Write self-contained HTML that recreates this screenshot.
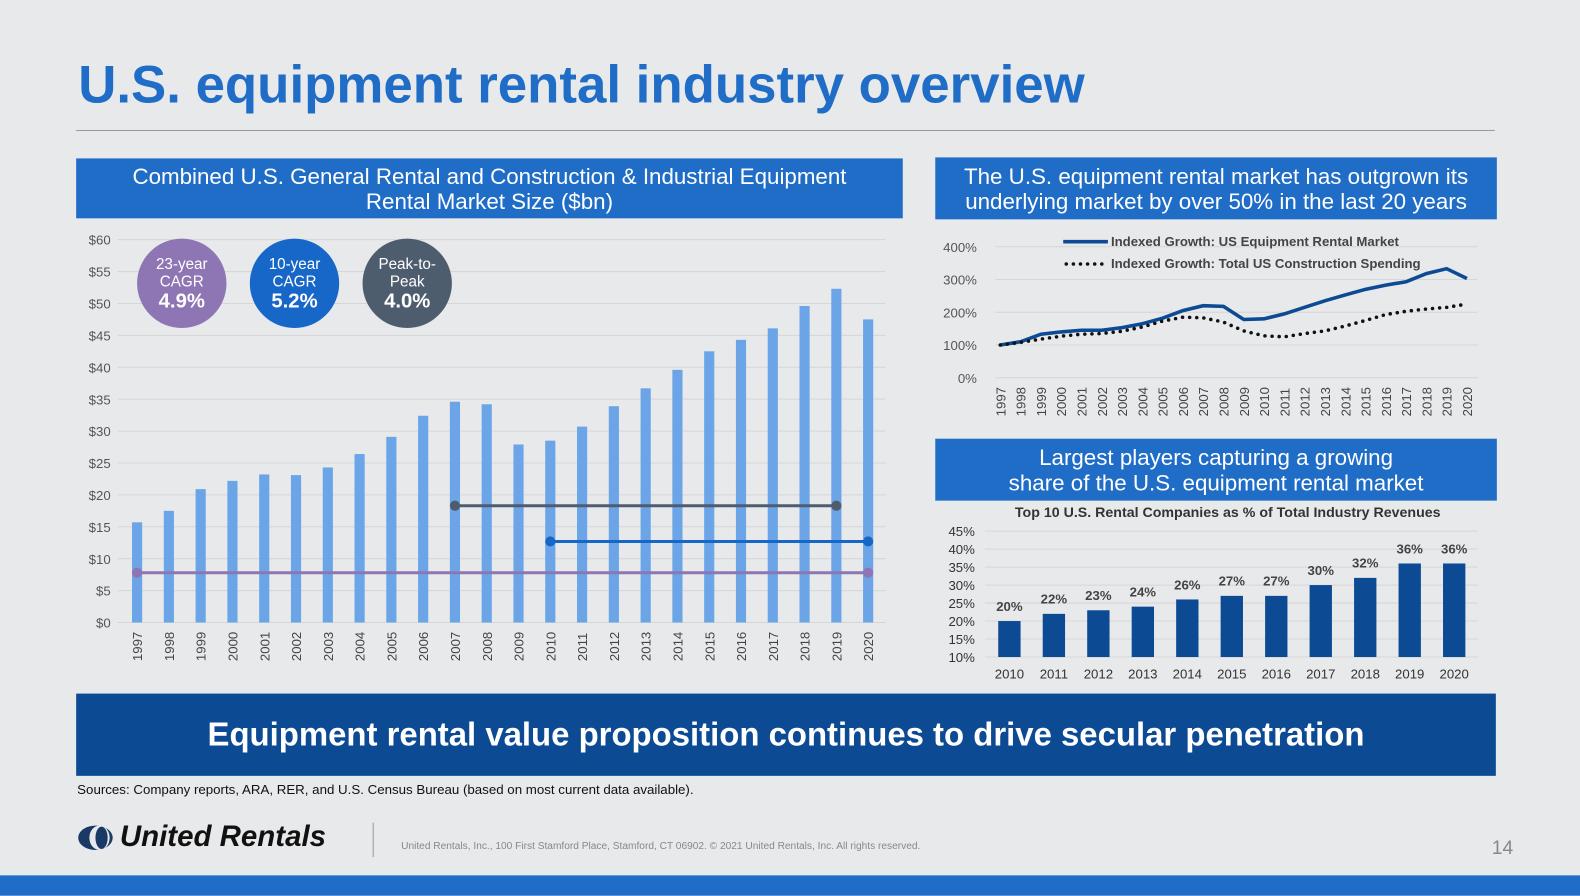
<!DOCTYPE html>
<html><head><meta charset="utf-8"><style>
body{margin:0;width:1580px;height:881px;background:#e8e9eb;font-family:"Liberation Sans",sans-serif;position:relative;overflow:hidden}
#wrap{position:absolute;left:0;top:0;width:1580px;height:881px;transform:scale(1.0155);transform-origin:0 0}
.abs{position:absolute}
.hdr{position:absolute;background:#1f6dc6;color:#fff;text-align:center;font-size:22px;line-height:25px;display:flex;align-items:center;justify-content:center}
svg text{font-family:"Liberation Sans",sans-serif}
</style></head><body>
<div id="wrap">
<div class="abs" style="left:77px;top:54px;font-size:52px;font-weight:bold;color:#1f6dc6">U.S. equipment rental industry overview</div>
<div class="abs" style="left:75px;top:128px;width:1397px;height:1px;background:#9a9a9a"></div>
<div class="hdr" style="left:75px;top:156px;width:814px;height:59px">Combined U.S. General Rental and Construction &amp; Industrial Equipment<br>Rental Market Size ($bn)</div>
<div class="hdr" style="left:921px;top:155px;width:553px;height:61px">The U.S. equipment rental market has outgrown its<br>underlying market by over 50% in the last 20 years</div>
<div class="hdr" style="left:921px;top:432px;width:553px;height:61px">Largest players capturing a growing<br>share of the U.S. equipment rental market</div>
<div class="abs" style="left:75px;top:683px;width:1398px;height:81px;background:#0d4a94;color:#fff;font-size:32.4px;font-weight:bold;display:flex;align-items:center;justify-content:center">Equipment rental value proposition continues to drive secular penetration</div>
<div class="abs" style="left:76px;top:770px;font-size:13.1px;color:#111">Sources: Company reports, ARA, RER, and U.S. Census Bureau (based on most current data available).</div>
<div class="abs" style="left:76px;top:808px;display:flex;align-items:center">
 <svg width="40" height="30"><ellipse cx="18" cy="15" rx="17" ry="12" fill="#1a3a66"/><ellipse cx="22" cy="15" rx="10" ry="12" fill="#e8e9eb"/><ellipse cx="24" cy="15" rx="6" ry="11" fill="#1a3a66"/></svg>
 <span style="font-size:29px;font-weight:bold;font-style:italic;color:#111;margin-left:2px">United Rentals</span></div>
<div class="abs" style="left:367px;top:810px;width:1px;height:34px;background:#999"></div>
<div class="abs" style="left:395px;top:828px;font-size:10px;color:#888">United Rentals, Inc., 100 First Stamford Place, Stamford, CT 06902. © 2021 United Rentals, Inc. All rights reserved.</div>
<div class="abs" style="left:1469px;top:825px;font-size:19px;color:#888">14</div>
<div class="abs" style="left:0;top:862px;width:1580px;height:20px;background:#1f6dc6"></div>
<svg id="c1" class="abs" style="left:0;top:0" width="1580" height="881"></svg>
</div>
<script>
const years=['1997','1998','1999','2000','2001','2002','2003','2004','2005','2006','2007','2008','2009','2010','2011','2012','2013','2014','2015','2016','2017','2018','2019','2020'];
const marketSize=[15.7,17.5,20.9,22.2,23.2,23.1,24.3,26.4,29.1,32.4,34.6,34.2,27.9,28.5,30.7,33.9,36.7,39.6,42.5,44.3,46.1,49.6,52.3,47.5];
const yTicks1=[0,5,10,15,20,25,30,35,40,45,50,55,60];
const rentalIdx=[100,110,133,140,145,145,153,165,182,205,220,218,178,180,195,215,235,253,270,283,293,318,333,303];
const constrIdx=[100,108,118,127,133,135,142,155,173,185,183,170,143,128,125,135,143,158,175,193,203,210,215,225];
const yTicks2=[0,100,200,300,400];
const shareYears=['2010','2011','2012','2013','2014','2015','2016','2017','2018','2019','2020'];
const shareVals=[20,22,23,24,26,27,27,30,32,36,36];
const yTicks3=[10,15,20,25,30,35,40,45];
const svg=document.getElementById('c1');const NS='http://www.w3.org/2000/svg';
function mk(t,a,txt){const e=document.createElementNS(NS,t);for(const k in a)e.setAttribute(k,a[k]);if(txt!=null)e.textContent=txt;svg.appendChild(e);return e;}
const x1=i=>135+i*31.3, y1=v=>613-v*377/60;
yTicks1.forEach(v=>{const g=mk('line',{x1:116,x2:872,y1:y1(v),y2:y1(v),stroke:'#d6d6d6'});
 const t=mk('text',{x:109,y:y1(v)+5,'text-anchor':'end','font-size':13,fill:'#555'},'$'+v);});
marketSize.forEach((v,i)=>{const r=mk('rect',{x:x1(i)-5,y:y1(v),width:10,height:y1(0)-y1(v),fill:'#6ba5e7'});
 const t=mk('text',{transform:`translate(${x1(i)+5},651) rotate(-90)`,'font-size':13,fill:'#444'},years[i]);});
[[0,23,7.8,'#8e75b3'],[13,23,12.7,'#1767c8'],[10,22,18.3,'#4e5d6e']].forEach(([a,b,v,c])=>{
 const l=mk('line',{x1:x1(a),x2:x1(b),y1:y1(v),y2:y1(v),stroke:c,'stroke-width':3});
 [a,b].forEach(k=>{const d=mk('circle',{cx:x1(k),cy:y1(v),r:5,fill:c});});});
[[179,'#8e75b3','23-year','CAGR','4.9%'],[290,'#1767c8','10-year','CAGR','5.2%'],[401,'#4e5d6e','Peak-to-','Peak','4.0%']].forEach(([cx,c,a,b,p])=>{
 const e=mk('ellipse',{cx:cx,cy:279,rx:44,ry:44,fill:c});
 mk('text',{x:cx,y:265,'text-anchor':'middle','font-size':15,fill:'#fff'},a);mk('text',{x:cx,y:282,'text-anchor':'middle','font-size':15,fill:'#fff'},b);
 mk('text',{x:cx,y:303,'text-anchor':'middle','font-size':20,'font-weight':'bold',fill:'#fff'},p);});
const x2=i=>985+i*19.98, y2=v=>372-v*129/400;
yTicks2.forEach(v=>{mk('line',{x1:980,x2:1455,y1:y2(v),y2:y2(v),stroke:'#d6d6d6'});
 const t=mk('text',{x:962,y:y2(v)+5,'text-anchor':'end','font-size':13,fill:'#555'},v+'%');});
years.forEach((y,i)=>{const t=mk('text',{transform:`translate(${x2(i)+5},410) rotate(-90)`,'font-size':13,fill:'#444'},y);});
const p1=mk('polyline',{points:rentalIdx.map((v,i)=>x2(i)+','+y2(v)).join(' '),fill:'none',stroke:'#0d4a94','stroke-width':3.5});
const p2=mk('polyline',{points:constrIdx.map((v,i)=>x2(i)+','+y2(v)).join(' '),fill:'none',stroke:'#111','stroke-width':3.5,'stroke-dasharray':'0 7','stroke-linecap':'round'});
let l=mk('line',{x1:1047,x2:1091,y1:238,y2:238,stroke:'#0d4a94','stroke-width':3.5});
mk('text',{x:1094,y:242,'font-size':13,'font-weight':'bold',fill:'#444'},'Indexed Growth: US Equipment Rental Market');
l=mk('line',{x1:1050,x2:1090,y1:260,y2:260,stroke:'#111','stroke-width':3.5,'stroke-dasharray':'0 7','stroke-linecap':'round'});
mk('text',{x:1094,y:264,'font-size':13,'font-weight':'bold',fill:'#444'},'Indexed Growth: Total US Construction Spending');
const t3=mk('text',{x:1209,y:509,'text-anchor':'middle','font-size':14,'font-weight':'bold',fill:'#333'},'Top 10 U.S. Rental Companies as % of Total Industry Revenues');
const x3=i=>994+i*43.8, y3=v=>647-(v-10)*124/35;
yTicks3.forEach(v=>{mk('line',{x1:970,x2:1455,y1:y3(v),y2:y3(v),stroke:'#d6d6d6'});
 const t=mk('text',{x:960,y:y3(v)+5,'text-anchor':'end','font-size':13,fill:'#333'},v+'%');});
shareVals.forEach((v,i)=>{const r=mk('rect',{x:x3(i)-11,y:y3(v),width:22,height:y3(10)-y3(v),fill:'#0d4a94'});
 const a=mk('text',{x:x3(i),y:y3(v)-10,'text-anchor':'middle','font-size':13,'font-weight':'bold',fill:'#444'},v+'%');
 const t=mk('text',{x:x3(i),y:668,'text-anchor':'middle','font-size':13,fill:'#333'},shareYears[i]);});
</script>
</body></html>
